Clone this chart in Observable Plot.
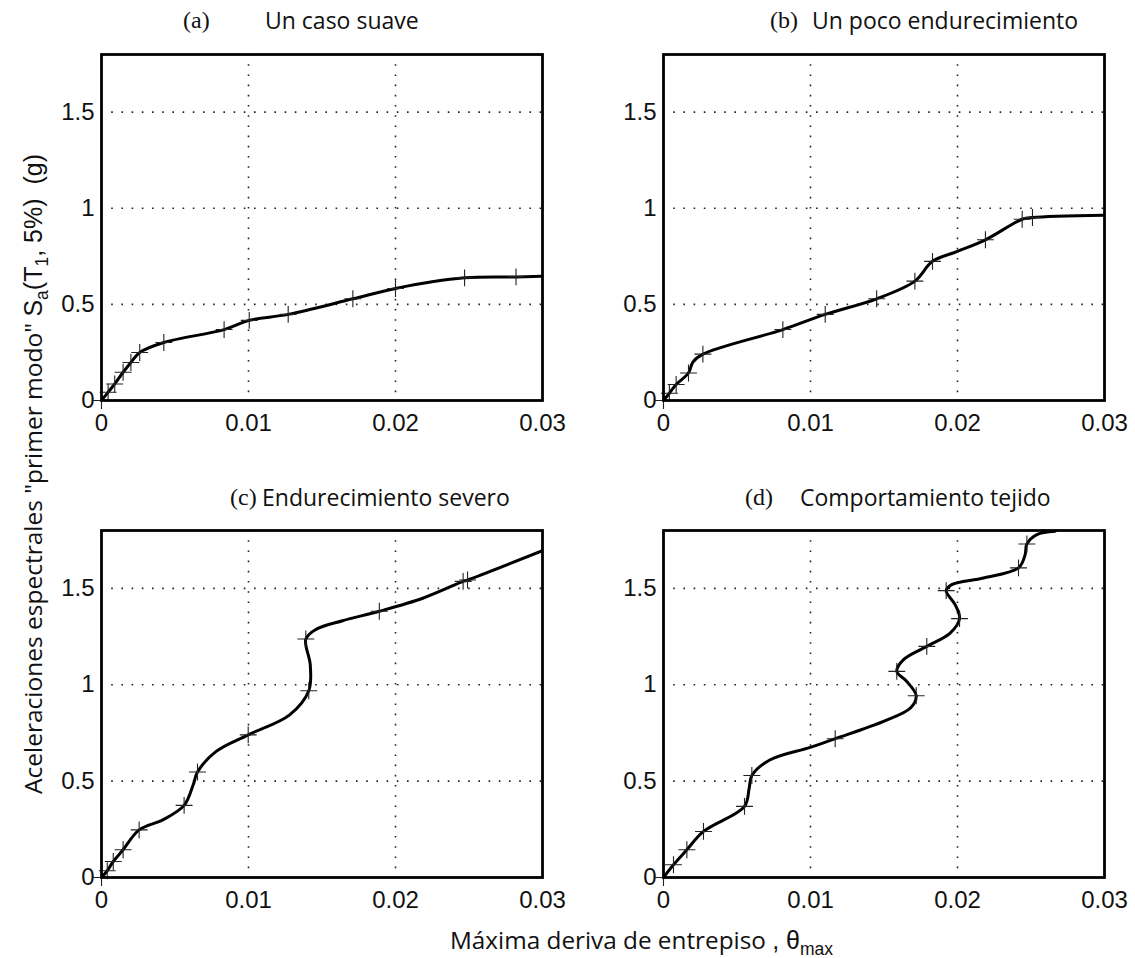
<!DOCTYPE html>
<html>
<head>
<meta charset="utf-8">
<script src="https://cdn.jsdelivr.net/npm/d3@7"></script>
<script src="https://cdn.jsdelivr.net/npm/@observablehq/plot@0.6"></script>
<style>
  body { margin: 0; background: #fff; }
  #fig { position: relative; width: 1135px; height: 958px; background: #fff; overflow: hidden; }
  .panel { position: absolute; }
  .t { position: absolute; white-space: nowrap; transform: translateY(-50%); color: #111; line-height: 1; }
  .tl { font-family: "Liberation Serif", "Times New Roman", serif; font-size: 24px; }
  .tx { font-family: "Open Sans", sans-serif; font-size: 23px; }
  #ylab { position: absolute; left: 33px; top: 474px; white-space: nowrap; transform: translate(-50%, -50%) rotate(-90deg); color: #111; line-height: 1; }
  #xlab { position: absolute; left: 450px; top: 940px; white-space: nowrap; transform: translateY(-50%); color: #111; line-height: 1; }
  #ylab .os { font-family: "Open Sans", sans-serif; font-size: 24.5px; }
  #ylab .hv { font-family: "Liberation Sans", Arial, sans-serif; font-size: 25px; }
  #xlab .os { font-family: "Open Sans", sans-serif; font-size: 24.3px; }
  #xlab .hv { font-family: "Liberation Sans", Arial, sans-serif; font-size: 25px; }
  sub { font-size: 0.7em; vertical-align: -0.35em; line-height: 0; }
</style>
</head>
<body>
<div id="fig"></div>
<script>
// ---- data ----
const xTicks = [0, 0.01, 0.02, 0.03];
const yTicks = [0, 0.5, 1, 1.5];

const titlesTag = ["(a)", "(b)", "(c)", "(d)"];
const titlesText = ["Un caso suave", "Un poco endurecimiento", "Endurecimiento severo", "Comportamiento tejido"];

// (a) Un caso suave
const aX = [0, 0.00045, 0.0009, 0.00147, 0.0020, 0.0026, 0.00424, 0.00834, 0.01005, 0.0127, 0.0171, 0.0200, 0.0247, 0.0282, 0.0300];
const aY = [0, 0.043, 0.086, 0.147, 0.198, 0.25, 0.302, 0.369, 0.417, 0.448, 0.529, 0.583, 0.638, 0.643, 0.647];
const aM = [1, 1, 1, 1, 1, 1, 1, 1, 1, 1, 1, 1, 1, 1, 0];

// (b) Un poco endurecimiento
const bX = [0, 0.0004, 0.00086, 0.0017, 0.0020, 0.00268, 0.00812, 0.0110, 0.0145, 0.0171, 0.0183, 0.0200, 0.0219, 0.0244, 0.0251, 0.0300];
const bY = [0, 0.038, 0.083, 0.143, 0.200, 0.241, 0.369, 0.448, 0.529, 0.621, 0.724, 0.776, 0.836, 0.943, 0.952, 0.964];
const bM = [1, 1, 1, 1, 0, 1, 1, 1, 1, 1, 1, 0, 1, 1, 1, 0];

// (c) Endurecimiento severo
const cX = [0, 0.00039, 0.0008, 0.00147, 0.00256, 0.0042, 0.00562, 0.00624, 0.00653, 0.0078, 0.00998, 0.0128, 0.0141, 0.0142, 0.0139, 0.0146, 0.0164, 0.0189, 0.0219, 0.0246, 0.0249, 0.0300];
const cY = [0, 0.035, 0.083, 0.144, 0.247, 0.30, 0.374, 0.481, 0.547, 0.654, 0.740, 0.844, 0.969, 1.104, 1.237, 1.287, 1.332, 1.381, 1.45, 1.536, 1.543, 1.695];
const cM = [1, 1, 1, 1, 1, 0, 1, 0, 1, 0, 1, 0, 1, 0, 1, 0, 0, 1, 0, 1, 1, 0];

// (d) Comportamiento tejido
const dX = [0, 0.00068, 0.00159, 0.00272, 0.00551, 0.00583, 0.00601, 0.00726, 0.00998, 0.01168, 0.01497, 0.0168, 0.01719, 0.01655, 0.01587, 0.01633, 0.01791, 0.0195, 0.02014, 0.01984, 0.01923, 0.01961, 0.02177, 0.02415, 0.0246, 0.02472, 0.0254, 0.02664];
const dY = [0, 0.066, 0.144, 0.239, 0.369, 0.464, 0.529, 0.611, 0.675, 0.720, 0.810, 0.879, 0.943, 1.017, 1.069, 1.130, 1.199, 1.268, 1.343, 1.415, 1.488, 1.519, 1.554, 1.606, 1.675, 1.730, 1.779, 1.796];
const dM = [1, 1, 1, 1, 1, 0, 1, 0, 0, 1, 0, 0, 1, 0, 1, 0, 1, 0, 1, 0, 1, 0, 0, 1, 0, 1, 0, 0];

const yLabelMain = "Aceleraciones espectrales \"primer modo\" ";
const xLabelMain = "Máxima deriva de entrepiso ";

// ---- layout ----
const fig = document.getElementById("fig");
const frames = [
  {L: 101, T: 54, B: 400},
  {L: 663, T: 54, B: 400},
  {L: 101, T: 530, B: 877},
  {L: 663, T: 530, B: 877}
];
const series = [[aX, aY, aM], [bX, bY, bM], [cX, cY, cM], [dX, dY, dM]];
const mL = 45, mR = 25, mT = 10, mB = 30, pw = 441;

function panel(X, Y, M, ph) {
  const pts = X.map((x, i) => ({x, y: Y[i], m: M[i]}));
  return Plot.plot({
    width: pw + mL + mR,
    height: ph + mT + mB,
    marginLeft: mL, marginRight: mR, marginTop: mT, marginBottom: mB,
    x: {domain: [0, 0.03]},
    y: {domain: [0, 1.8]},
    style: {fontFamily: "'Liberation Sans', Arial, sans-serif", fontSize: "24px", color: "#111", background: "transparent", overflow: "visible"},
    marks: [
      Plot.gridX(xTicks.slice(1, 3), {stroke: "#222", strokeOpacity: 1, strokeWidth: 1.6, strokeDasharray: "1.6,8.6"}),
      Plot.gridY(yTicks.slice(1), {stroke: "#222", strokeOpacity: 1, strokeWidth: 1.6, strokeDasharray: "1.6,8.6"}),
      Plot.axisX(xTicks, {tickSize: 0, tickPadding: 13, tickFormat: d => String(d), label: null, fontSize: 24}),
      Plot.axisY(yTicks, {tickSize: 0, tickPadding: 7, tickFormat: d => String(d), label: null, fontSize: 24}),
      Plot.line(pts, {x: "x", y: "y", curve: "catmull-rom", stroke: "#000", strokeWidth: 3, clip: true}),
      Plot.dot(pts.filter(d => d.m), {x: "x", y: "y", symbol: "plus", r: 5.5, stroke: "#222", strokeWidth: 1.1}),
      Plot.frame({stroke: "#000", strokeWidth: 2.8})
    ]
  });
}

frames.forEach((f, i) => {
  const [X, Y, M] = series[i];
  const el = panel(X, Y, M, f.B - f.T);
  el.classList.add("panel");
  el.style.left = (f.L - mL) + "px";
  el.style.top = (f.T - mT) + "px";
  fig.appendChild(el);
});

// titles
const titlePos = [
  {tag: 183, text: 265, y: 20},
  {tag: 770, text: 812, y: 20},
  {tag: 230, text: 262, y: 497},
  {tag: 745, text: 800, y: 497}
];
titlePos.forEach((p, i) => {
  const a = document.createElement("div");
  a.className = "t tl"; a.textContent = titlesTag[i];
  a.style.left = p.tag + "px"; a.style.top = p.y + "px";
  fig.appendChild(a);
  const b = document.createElement("div");
  b.className = "t tx"; b.textContent = titlesText[i];
  b.style.left = p.text + "px"; b.style.top = p.y + "px";
  fig.appendChild(b);
});

// y label
const yl = document.createElement("div");
yl.id = "ylab";
const s1 = document.createElement("span"); s1.className = "os"; s1.textContent = yLabelMain;
const s2 = document.createElement("span"); s2.className = "hv";
s2.innerHTML = "S<sub>a</sub>(T<sub>1</sub>, 5%)&nbsp; (g)";
yl.appendChild(s1); yl.appendChild(s2);
fig.appendChild(yl);

// x label
const xl = document.createElement("div");
xl.id = "xlab";
const x1 = document.createElement("span"); x1.className = "os"; x1.textContent = xLabelMain;
const x2 = document.createElement("span"); x2.className = "hv";
x2.innerHTML = ", θ<sub>max</sub>";
xl.appendChild(x1); xl.appendChild(x2);
fig.appendChild(xl);
</script>
</body>
</html>
